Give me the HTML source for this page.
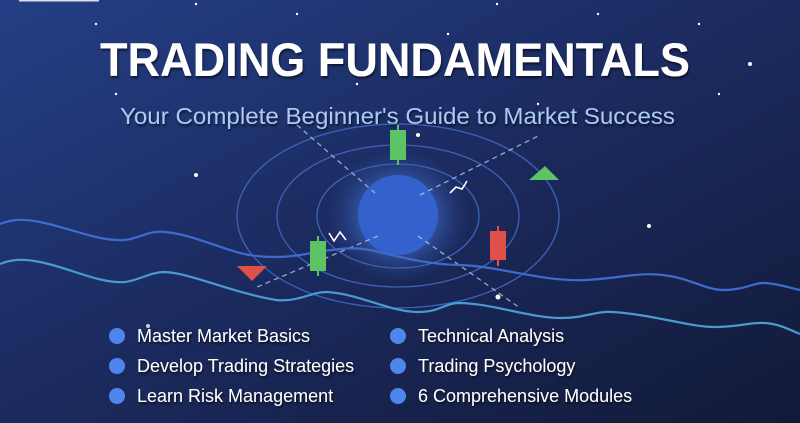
<!DOCTYPE html>
<html><head><meta charset="utf-8"><style>
html,body{margin:0;padding:0;width:800px;height:423px;overflow:hidden;background:#1a2656}
svg{display:block}
text{font-family:"Liberation Sans",Arial,sans-serif}
</style></head><body>
<svg width="800" height="423" viewBox="0 0 800 423" xmlns="http://www.w3.org/2000/svg">
<defs>
<linearGradient id="bg" x1="0" y1="0" x2="1" y2="1">
<stop offset="0" stop-color="#243f86"/><stop offset="0.5" stop-color="#1b2a5e"/><stop offset="1" stop-color="#121a38"/>
</linearGradient>
<radialGradient id="glow" cx="0.5" cy="0.5" r="0.5">
<stop offset="0.4" stop-color="#4a78d8" stop-opacity="0.7"/><stop offset="1" stop-color="#2a4a9a" stop-opacity="0"/>
</radialGradient>
<filter id="sh"><feDropShadow dx="1" dy="2" stdDeviation="1" flood-color="#000" flood-opacity="0.6"/></filter>
</defs>
<rect width="800" height="423" fill="url(#bg)"/>
<rect x="19" y="0" width="80" height="1.5" fill="#dde"/>
<g fill="#fff">
<circle cx="196" cy="4" r="1.2"/><circle cx="497" cy="4" r="1.2"/><circle cx="297" cy="14" r="1.2"/><circle cx="598" cy="14" r="1.2"/>
<circle cx="96" cy="24" r="1.2"/><circle cx="699" cy="24" r="1.2"/><circle cx="448" cy="34" r="1.2"/><circle cx="750" cy="64" r="2"/>
<circle cx="357" cy="84" r="1.2"/><circle cx="116" cy="94" r="1.2"/><circle cx="719" cy="94" r="1.2"/><circle cx="538" cy="104" r="1.2"/>
<circle cx="196" cy="175" r="2"/><circle cx="418" cy="135" r="2"/><circle cx="649" cy="226" r="2"/><circle cx="498" cy="297" r="2.5"/><circle cx="148" cy="326" r="2" fill="#ccd"/>
</g>
<text x="100" y="76" textLength="590" lengthAdjust="spacingAndGlyphs" font-size="47" font-weight="bold" fill="#fff" filter="url(#sh)">TRADING FUNDAMENTALS</text>
<text x="120" y="124" textLength="555" lengthAdjust="spacingAndGlyphs" font-size="23" fill="#a9c8f5" filter="url(#sh)">Your Complete Beginner's Guide to Market Success</text>
<g fill="none" stroke="#3d62b8" stroke-width="1.3">
<ellipse cx="398" cy="216" rx="161" ry="92"/>
<ellipse cx="398" cy="216" rx="121" ry="71"/>
<ellipse cx="398" cy="216" rx="81" ry="52"/>
</g>
<ellipse cx="398" cy="216" rx="72" ry="68" fill="url(#glow)"/>
<circle cx="398" cy="215" r="40" fill="#3462cc"/>
<g stroke="#b8c8e8" stroke-width="1.3" stroke-dasharray="5,4" fill="none" opacity="0.8">
<line x1="297" y1="125" x2="375" y2="193"/><line x1="420" y1="195" x2="540" y2="135"/>
<line x1="378" y1="236" x2="257" y2="287"/><line x1="418" y1="236" x2="520" y2="308"/>
</g>
<path d="M0,224 C10,220 20,218 40,222 C70,228 100,242 125,240 C140,238 150,230 165,232 C190,234 220,248 240,253 C260,258 280,258 300,255 C330,250 350,246 370,250 C390,254 420,264 459,265 C500,266 540,282 587,280 C620,278 640,272 663,275 C690,278 705,290 724,290 C745,290 755,282 765,283 C780,284 790,288 800,290" fill="none" stroke="#3d6ccc" stroke-width="2.2"/>
<path d="M0,264 C10,260 20,258 40,262 C70,268 100,284 125,282 C140,280 150,272 165,272 C190,273 230,292 276,300 C300,302 310,292 327,292 C360,294 390,312 418,312 C440,312 445,303 459,303 C490,303 530,318 561,318 C585,318 595,311 612,312 C650,314 690,327 714,327 C740,327 750,322 765,323 C780,324 790,330 800,334" fill="none" stroke="#4a9ad0" stroke-width="2.2"/>
<g stroke="#5cc465" stroke-width="2"><line x1="398" y1="125" x2="398" y2="165"/><line x1="318" y1="236" x2="318" y2="276"/></g>
<rect x="390" y="130" width="16" height="30" fill="#5cc465"/>
<rect x="310" y="241" width="16" height="30" fill="#5cc465"/>
<line x1="498" y1="226" x2="498" y2="266" stroke="#e0504a" stroke-width="2"/>
<rect x="490" y="231" width="16" height="29" fill="#e0504a"/>
<polygon points="529,180 545,166 559,180" fill="#5cc465"/>
<polygon points="237,266 267,266 252,281" fill="#e0504a"/>
<polyline points="450,193 456,187 462,189 467,181" fill="none" stroke="#fff" stroke-width="1.6"/>
<polyline points="329,233 334,241 340,232 346,240" fill="none" stroke="#fff" stroke-width="1.6"/>
<g fill="#4f86ee"><circle cx="117" cy="336" r="8"/><circle cx="117" cy="366" r="8"/><circle cx="117" cy="396" r="8"/>
<circle cx="398" cy="336" r="8"/><circle cx="398" cy="366" r="8"/><circle cx="398" cy="396" r="8"/></g>
<g font-size="18" fill="#fff" filter="url(#sh)">
<text x="137" y="342">Master Market Basics</text>
<text x="137" y="372">Develop Trading Strategies</text>
<text x="137" y="402">Learn Risk Management</text>
<text x="418" y="342">Technical Analysis</text>
<text x="418" y="372">Trading Psychology</text>
<text x="418" y="402">6 Comprehensive Modules</text>
</g>
</svg>
</body></html>
